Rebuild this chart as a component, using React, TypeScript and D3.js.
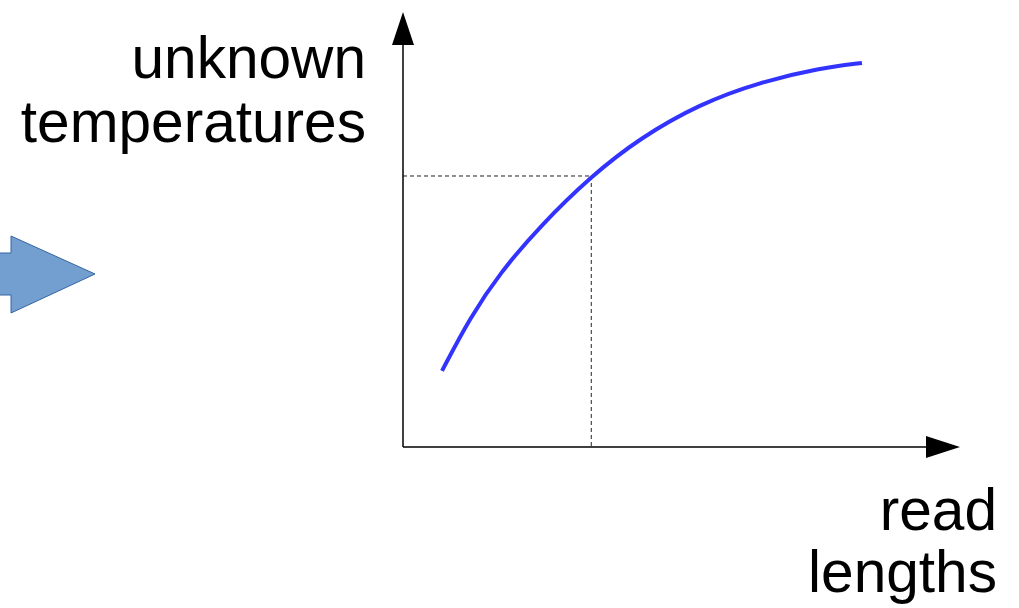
import React from 'react';
import * as d3 from 'd3';

// curve (arbitrary units, 0..10 on both axes)
const lengths = [0.7, 1.2, 1.74, 2.46, 3.38, 4.25, 5.33, 6.41, 7.49, 8.24];
const temps = [1.75, 2.97, 4.0, 5.08, 6.23, 7.1, 7.89, 8.39, 8.71, 8.83];
// the read-off point marked by the dashed guides
const guideLength = 3.38;
const guideTemp = 6.23;

const yLabel = ['unknown', 'temperatures'];
const xLabel = ['read', 'lengths'];

const W = 1019;
const H = 608;
const font = '"Liberation Sans", Arial, sans-serif';

export default function App() {
  const x = d3.scaleLinear().domain([0, 10]).range([403, 960]);
  const y = d3.scaleLinear().domain([0, 10]).range([447, 12]);

  const pts = lengths.map((l, i) => [l, temps[i]] as [number, number]);
  const line = d3.line<[number, number]>()
    .x(d => x(d[0]))
    .y(d => y(d[1]))
    .curve(d3.curveBasis);

  const x0 = x(0), y0 = y(0);
  const xEnd = x(10), yEnd = y(10);

  // big blue arrow on the left
  const arrow = 'M -2,253 L 11,253 L 11,236 L 95,274 L 11,313 L 11,295 L -2,295 Z';

  return (
    <svg width={W} height={H} style={{ position: 'absolute', left: 0, top: 0, background: '#fff' }}>
      <path d={arrow} fill="#729fcf" stroke="#3465a4" strokeWidth={1} />

      {/* dashed guides */}
      <line x1={x0} x2={x(guideLength)} y1={y(guideTemp)} y2={y(guideTemp)}
        stroke="#222" strokeWidth={1} strokeDasharray="4,3" />
      <line x1={x(guideLength)} x2={x(guideLength)} y1={y(guideTemp)} y2={y0}
        stroke="#222" strokeWidth={1} strokeDasharray="4,3" />

      {/* axes */}
      <line x1={x0} x2={xEnd - 30} y1={y0} y2={y0} stroke="#000" strokeWidth={1.5} />
      <line x1={x0} x2={x0} y1={y0} y2={yEnd + 30} stroke="#000" strokeWidth={1.5} />
      <path d={`M ${xEnd},${y0} L ${xEnd - 34},${y0 - 11} L ${xEnd - 34},${y0 + 11} Z`} fill="#000" />
      <path d={`M ${x0},${yEnd} L ${x0 - 11},${yEnd + 33} L ${x0 + 11},${yEnd + 33} Z`} fill="#000" />

      <path d={line(pts) || ''} fill="none" stroke="#3333ff" strokeWidth={4} />

      {yLabel.map((t, i) => (
        <text key={t} x={366} y={78 + i * 64} textAnchor="end" fontFamily={font} fontSize={58.6} fill="#000">{t}</text>
      ))}
      {xLabel.map((t, i) => (
        <text key={t} x={997} y={530 + i * 62} textAnchor="end" fontFamily={font} fontSize={58.6} fill="#000">{t}</text>
      ))}
    </svg>
  );
}
